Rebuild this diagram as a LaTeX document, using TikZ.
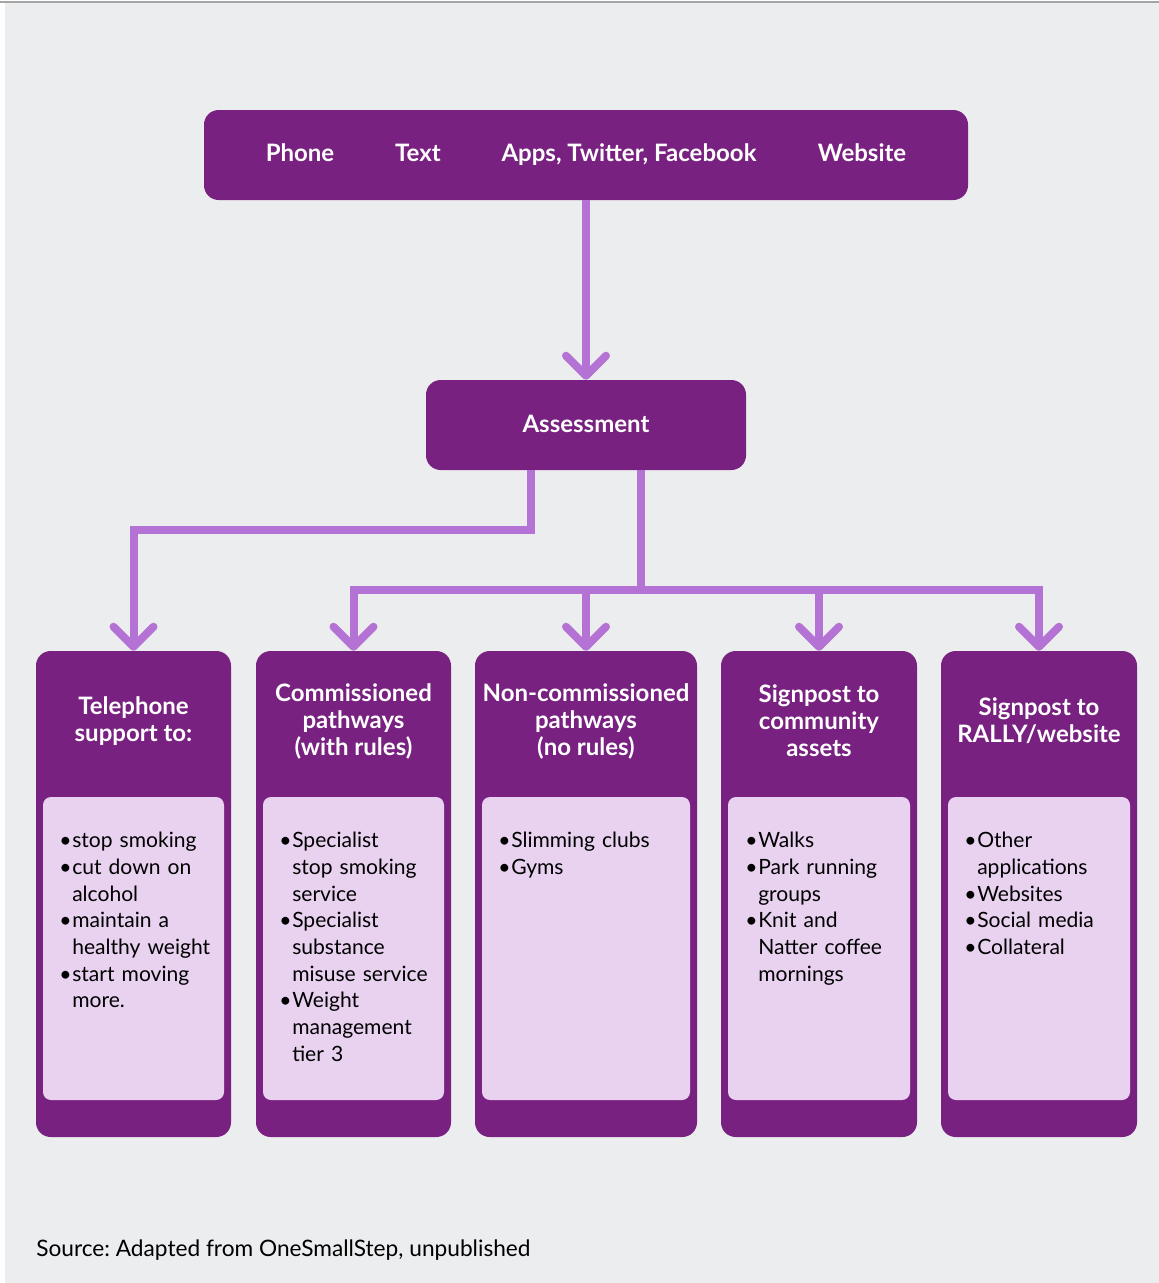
\documentclass[tikz,border=0pt]{standalone}
\usepackage{fontspec}
\setmainfont{Lato}
\usetikzlibrary{arrows.meta,calc}
\frenchspacing
\hyphenpenalty=10000
\exhyphenpenalty=10000

\definecolor{bg}{HTML}{ECEDEF}
\definecolor{deep}{HTML}{782180}
\definecolor{pale}{HTML}{E8D2F0}
\definecolor{link}{HTML}{B472D4}
\definecolor{rule}{HTML}{A5A5A5}

% bullet item with hanging indent
\newcommand{\bul}{\par\hangindent=9.75pt\hangafter=1\noindent\makebox[9.75pt][l]{\textbullet}}

\tikzset{
  deepbox/.style={fill=deep, rounded corners=11pt, inner sep=0pt},
  palebox/.style={fill=pale, rounded corners=6pt, inner sep=0pt, minimum height=227.25pt},
  colbox/.style={deepbox, minimum height=364.5pt},
  toplabel/.style={text=white, inner sep=0pt, anchor=base, font=\bfseries\fontsize{18}{21}\selectfont},
  head/.style={text=white, inner sep=0pt, align=center, font=\bfseries\fontsize{18}{20.25}\selectfont},
  items/.style={anchor=north west, inner sep=0pt, text width=160pt, align=left,
                font=\fontsize{15.8}{20}\selectfont},
  link/.style={draw=link, line width=6pt,
               -{Straight Barb[length=15pt,width=30pt,round]}},
  trunk/.style={draw=link, line width=6pt},
}

\begin{document}
\begin{tikzpicture}[x=0.75pt,y=-0.75pt]
  % page and backdrop
  \useasboundingbox (0,0) rectangle (1159,1283);
  \fill[white] (0,0) rectangle (1159,1283);
  \fill[bg] (5,3) rectangle (1159,1283);
  \draw[rule, line width=1.2pt] (0,2) -- (1159,2);

  % channels
  \node[deepbox, minimum width=573pt, minimum height=67.5pt] (channels) at (586,155) {};
  \node[toplabel] (phone) at (300,161) {Phone};
  \node[toplabel] (text) at (418,161) {Text};
  \node[toplabel] (apps) at (629,161) {Apps, Twitter, Facebook};
  \node[toplabel] (web) at (862,161) {Website};

  % assessment
  \node[deepbox, minimum width=240pt, minimum height=67.5pt] (assess) at (586,425) {};
  \node[toplabel] (assesslabel) at (586,432) {Assessment};

  % outcome columns
  \node[colbox, minimum width=146.25pt] (b1) at (133.5,894) {};
  \node[colbox, minimum width=146.25pt] (b2) at (353.5,894) {};
  \node[colbox, minimum width=166.5pt]  (b3) at (586,894) {};
  \node[colbox, minimum width=147pt]    (b4) at (819,894) {};
  \node[colbox, minimum width=147pt]    (b5) at (1039,894) {};

  \node[palebox, minimum width=135.75pt] (p1) at (133.5,948.5) {};
  \node[palebox, minimum width=135.75pt] (p2) at (353.5,948.5) {};
  \node[palebox, minimum width=156pt]    (p3) at (586,948.5) {};
  \node[palebox, minimum width=136.5pt]  (p4) at (819,948.5) {};
  \node[palebox, minimum width=136.5pt]  (p5) at (1039,948.5) {};

  % column headings
  \node[head] (h1) at (133.5,721) {Telephone\\support to:};
  \node[head] (h2) at (353.5,721) {Commissioned\\pathways\\(with rules)};
  \node[head] (h3) at (586,721)   {Non-commissioned\\pathways\\(no rules)};
  \node[head] (h4) at (819,721)   {Signpost to\\community\\assets};
  \node[head] (h5) at (1039,721)  {Signpost to\\RALLY/website};

  % column contents
  \node[items] (l1) at (59,821) {%
    \bul stop smoking
    \bul cut down on\newline alcohol
    \bul maintain a\newline healthy weight
    \bul start moving\newline more.\par};
  \node[items] (l2) at (279,821) {%
    \bul Specialist\newline stop smoking\newline service
    \bul Specialist\newline substance\newline misuse service
    \bul Weight\newline management\newline tier 3\par};
  \node[items] (l3) at (498,821) {%
    \bul Slimming clubs
    \bul Gyms\par};
  \node[items] (l4) at (745,821) {%
    \bul Walks
    \bul Park running\newline groups
    \bul Knit and\newline Natter coffee\newline mornings\par};
  \node[items] (l5) at (964,821) {%
    \bul Other\newline applications
    \bul Websites
    \bul Social media
    \bul Collateral\par};

  % connectors
  \draw[link] (channels.south) -- (assess.north);
  \draw[link] ($(assess.south)+(-55,0)$) -- ++(0,60) -| (b1.north);
  \draw[trunk] ($(assess.south)+(55,0)$) -- ++(0,120) coordinate (hub);
  \draw[link] (hub) -| (b2.north);
  \draw[link] (hub) -| (b5.north);
  \draw[link] (hub -| b3.north) -- (b3.north);
  \draw[link] (hub -| b4.north) -- (b4.north);

  % source line
  \node[anchor=west, inner sep=0pt, font=\fontsize{17}{20}\selectfont] (source) at (36,1250)
    {Source: Adapted from OneSmallStep, unpublished};
\end{tikzpicture}
\end{document}
